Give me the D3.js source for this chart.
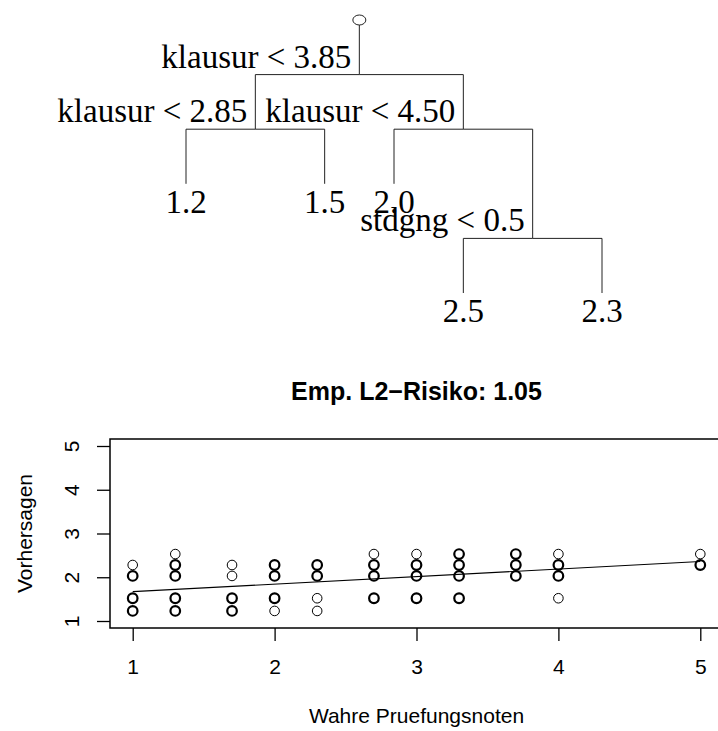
<!DOCTYPE html>
<html>
<head>
<meta charset="utf-8">
<script src="https://cdn.jsdelivr.net/npm/d3@7"></script>
<style>
  body { margin: 0; background: #fff; }
  svg { display: block; }
</style>
</head>
<body>
<div id="chart"></div>
<script>
// regression tree (rpart style): split rules and leaf means
var treeIds    = ["s1", "s2", "s3", "l1", "l2", "l3", "s4", "l4", "l5"];
var treeParent = [null, "s1", "s1", "s2", "s2", "s3", "s3", "s4", "s4"];
var treeLabels = ["klausur < 3.85", "klausur < 2.85", "klausur < 4.50",
                  "1.2", "1.5", "2.0", "stdgng < 0.5", "2.5", "2.3"];
var treeLevel  = [1, 2, 2, 3, 3, 3, 4, 5, 5];
// leaf order along the horizontal axis of the tree
var leafSlot   = {l1: 1, l2: 3, l3: 4, l4: 5, l5: 7};

// scatter: true grade vs. predicted grade, count = overplotted points
var trueGrade = [1, 1, 1, 1,
                 1.3, 1.3, 1.3, 1.3, 1.3,
                 1.7, 1.7, 1.7, 1.7,
                 2, 2, 2, 2,
                 2.3, 2.3, 2.3, 2.3,
                 2.7, 2.7, 2.7, 2.7,
                 3, 3, 3, 3,
                 3.3, 3.3, 3.3, 3.3,
                 3.7, 3.7, 3.7,
                 4, 4, 4, 4,
                 5, 5];
var predicted = [2.28, 2.03, 1.52, 1.23,
                 2.53, 2.28, 2.03, 1.52, 1.23,
                 2.28, 2.03, 1.52, 1.23,
                 2.28, 2.03, 1.52, 1.23,
                 2.28, 2.03, 1.52, 1.23,
                 2.53, 2.28, 2.03, 1.52,
                 2.53, 2.28, 2.03, 1.52,
                 2.53, 2.28, 2.03, 1.52,
                 2.53, 2.28, 2.03,
                 2.53, 2.28, 2.03, 1.52,
                 2.53, 2.28];
var pointCount = [1, 2, 3, 2,
                  1, 2, 2, 2, 2,
                  1, 1, 2, 2,
                  2, 2, 2, 1,
                  2, 2, 1, 1,
                  1, 2, 3, 2,
                  1, 2, 2, 2,
                  2, 2, 2, 2,
                  2, 2, 2,
                  1, 2, 2, 1,
                  1, 2];
// fitted line
var fitX = [1, 5];
var fitY = [1.67, 2.36];

var xTicks = [1, 2, 3, 4, 5];
var yTicks = [1, 2, 3, 4, 5];
var title = "Emp. L2\u2212Risiko: 1.05";
var xLabel = "Wahre Pruefungsnoten";
var yLabel = "Vorhersagen";

var width = 718, height = 731;

var svg = d3.select("#chart")
  .append("svg")
    .attr("width", width)
    .attr("height", height);

// ---------- tree ----------
var rows = treeIds.map(function(id, i) {
  return {id: id, parent: treeParent[i], label: treeLabels[i], level: treeLevel[i]};
});
var root = d3.stratify()
  .id(function(d) { return d.id; })
  .parentId(function(d) { return d.parent; })(rows);

var tx = d3.scaleLinear().domain([1, 7]).range([186, 602]);
var ty = d3.scaleLinear().domain([0, 5]).range([20, 293]);

root.eachAfter(function(n) {
  n.x = n.children ? d3.mean(n.children, function(c) { return c.x; }) : tx(leafSlot[n.id]);
  n.y = ty(n.data.level);
});

var tree = svg.append("g")
  .attr("fill", "none")
  .attr("stroke", "#222")
  .attr("stroke-width", 1);

tree.selectAll("path.link")
  .data(root.descendants().slice(1))
  .enter()
  .append("path")
    .attr("class", "link")
    .attr("d", function(d) {
      return "M" + d.x + "," + d.y + "V" + d.parent.y + "H" + d.parent.x;
    });

// root stem and marker
tree.append("path")
  .attr("d", "M" + root.x + "," + (ty(0) + 5) + "V" + root.y);
tree.append("ellipse")
  .attr("cx", root.x)
  .attr("cy", ty(0))
  .attr("rx", 6.5)
  .attr("ry", 5)
  .attr("fill", "#fff");

var serif = "'Liberation Serif', 'Times New Roman', serif";

svg.selectAll("text.split")
  .data(root.descendants().filter(function(d) { return d.children; }))
  .enter()
  .append("text")
    .attr("class", "split")
    .attr("x", function(d) { return d.x - 8; })
    .attr("y", function(d) { return d.y - 7; })
    .attr("text-anchor", "end")
    .attr("font-family", serif)
    .attr("font-size", "33px")
    .text(function(d) { return d.data.label; });

svg.selectAll("text.leaf")
  .data(root.leaves())
  .enter()
  .append("text")
    .attr("class", "leaf")
    .attr("x", function(d) { return d.x; })
    .attr("y", function(d) { return d.y + 29; })
    .attr("text-anchor", "middle")
    .attr("font-family", serif)
    .attr("font-size", "33px")
    .text(function(d) { return d.data.label; });

// ---------- scatter ----------
var sans = "'Liberation Sans', Arial, Helvetica, sans-serif";
var plot = {left: 110, right: 723, top: 439, bottom: 628};

function padded(lo, hi) {
  var p = (hi - lo) * 0.04;
  return [lo - p, hi + p];
}

var x = d3.scaleLinear().domain(padded(1, 5)).range([plot.left, plot.right]);
var y = d3.scaleLinear().domain(padded(1, 5)).range([plot.bottom, plot.top]);

var g = svg.append("g").attr("font-family", sans);

g.append("text")
  .attr("x", (plot.left + plot.right) / 2)
  .attr("y", 400)
  .attr("text-anchor", "middle")
  .attr("font-size", "25px")
  .attr("font-weight", "bold")
  .text(title);

var xAxis = g.append("g")
  .attr("transform", "translate(0," + plot.bottom + ")")
  .call(d3.axisBottom(x).tickValues(xTicks).tickSize(13).tickPadding(18).tickFormat(d3.format("d")));
xAxis.select(".domain").remove();
xAxis.selectAll("text").attr("font-size", "21px").attr("font-family", sans).attr("fill", "#000");
xAxis.selectAll("line").attr("stroke", "#000").attr("stroke-width", 1.3);

var yAxis = g.append("g")
  .attr("transform", "translate(" + plot.left + ",0)")
  .call(d3.axisLeft(y).tickValues(yTicks).tickSize(13).tickFormat(d3.format("d")));
yAxis.select(".domain").remove();
yAxis.selectAll("line").attr("stroke", "#000").attr("stroke-width", 1.3);
yAxis.selectAll("text")
  .attr("x", null)
  .attr("dy", null)
  .attr("text-anchor", "middle")
  .attr("transform", "translate(-31,0) rotate(-90)")
  .attr("font-size", "21px")
  .attr("font-family", sans)
  .attr("fill", "#000");

g.append("text")
  .attr("x", (plot.left + plot.right) / 2)
  .attr("y", 723)
  .attr("text-anchor", "middle")
  .attr("font-size", "21px")
  .text(xLabel);

g.append("text")
  .attr("transform", "translate(32," + (plot.top + plot.bottom) / 2 + ") rotate(-90)")
  .attr("text-anchor", "middle")
  .attr("font-size", "21px")
  .text(yLabel);

g.append("rect")
  .attr("x", plot.left)
  .attr("y", plot.top)
  .attr("width", plot.right - plot.left)
  .attr("height", plot.bottom - plot.top)
  .attr("fill", "none")
  .attr("stroke", "#000")
  .attr("stroke-width", 1.5);

var strokeFor = d3.scaleThreshold().domain([2]).range([1, 2.2]);

g.selectAll("circle.pt")
  .data(trueGrade.map(function(v, i) { return {x: v, y: predicted[i], n: pointCount[i]}; }))
  .enter()
  .append("circle")
    .attr("class", "pt")
    .attr("cx", function(d) { return x(d.x); })
    .attr("cy", function(d) { return y(d.y); })
    .attr("r", 4.8)
    .attr("fill", "none")
    .attr("stroke", "#000")
    .attr("stroke-width", function(d) { return strokeFor(d.n); });

g.append("path")
  .datum(fitX.map(function(v, i) { return [v, fitY[i]]; }))
  .attr("fill", "none")
  .attr("stroke", "#000")
  .attr("stroke-width", 1.2)
  .attr("d", d3.line().x(function(d) { return x(d[0]); }).y(function(d) { return y(d[1]); }));
</script>
</body>
</html>
